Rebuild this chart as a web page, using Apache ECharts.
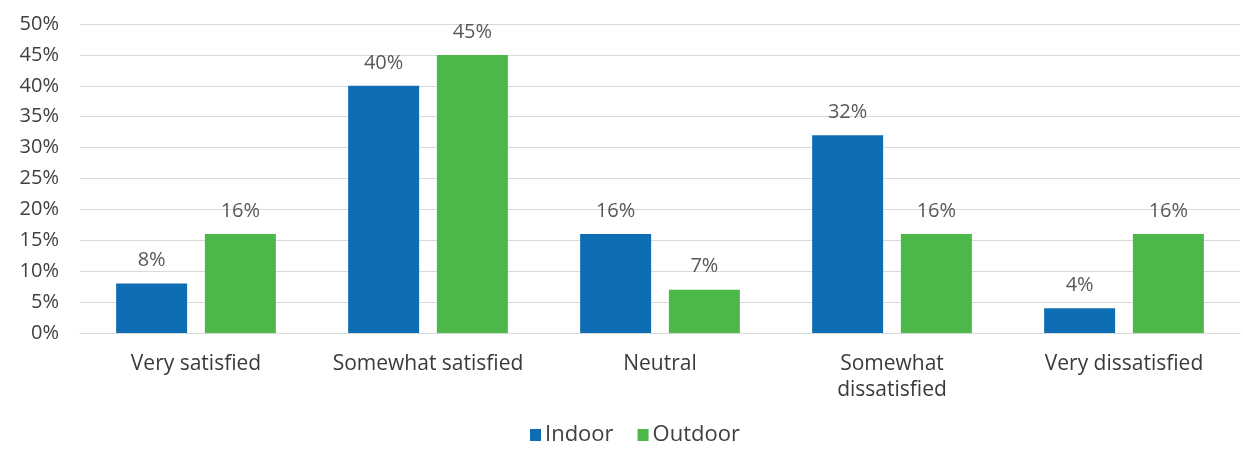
<!DOCTYPE html>
<html>
<head>
<meta charset="utf-8">
<script src="https://cdn.jsdelivr.net/npm/echarts@6/dist/echarts.min.js"></script>
<style>html,body{margin:0;padding:0;background:#fff;}#c{width:1243px;height:450px;}</style>
</head>
<body>
<div id="c"></div>
<script>
const categories = ['Very satisfied', 'Somewhat satisfied', 'Neutral', 'Somewhat\ndissatisfied', 'Very dissatisfied'];
const indoor = [8, 40, 16, 32, 4];
const outdoor = [16, 45, 7, 16, 16];
const yTicks = [0, 5, 10, 15, 20, 25, 30, 35, 40, 45, 50];

const font = '"Open Sans", sans-serif';
const chart = echarts.init(document.getElementById('c'));
chart.setOption({
  animation: false,
  textStyle: { fontFamily: font },
  grid: { left: 80, right: 3, top: 24, bottom: 117, containLabel: false },
  legend: {
    top: 424, left: 530, padding: 0,
    itemWidth: 11, itemHeight: 12, itemGap: 24,
    icon: 'rect',
    textStyle: { fontSize: 22, color: '#404040', fontFamily: font, padding: [0, 0, 0, -1] },
    data: ['Indoor', 'Outdoor']
  },
  xAxis: {
    type: 'category',
    data: categories,
    axisLine: { show: true, lineStyle: { color: '#d9d9d9', width: 1 } },
    axisTick: { show: false },
    axisLabel: { fontSize: 21, color: '#3a3a3a', margin: 18, lineHeight: 26, fontFamily: font, interval: 0 }
  },
  yAxis: {
    type: 'value',
    min: yTicks[0], max: yTicks[yTicks.length - 1], interval: 5,
    axisLine: { show: false },
    axisTick: { show: false },
    splitLine: { lineStyle: { color: '#d9d9d9', width: 1 } },
    axisLabel: { formatter: v => v + '%', fontSize: 20, color: '#404040', margin: 21, fontFamily: font }
  },
  series: [
    {
      name: 'Indoor', type: 'bar', data: indoor,
      barWidth: '30.6%', barGap: '25%',
      itemStyle: { color: '#0e6db3' },
      label: { show: true, position: 'top', distance: 13, formatter: p => p.value + '%', fontSize: 20, color: '#595959', fontFamily: font }
    },
    {
      name: 'Outdoor', type: 'bar', data: outdoor,
      barWidth: '30.6%',
      itemStyle: { color: '#4cb847' },
      label: { show: true, position: 'top', distance: 13, formatter: p => p.value + '%', fontSize: 20, color: '#595959', fontFamily: font }
    }
  ]
});
</script>
</body>
</html>
